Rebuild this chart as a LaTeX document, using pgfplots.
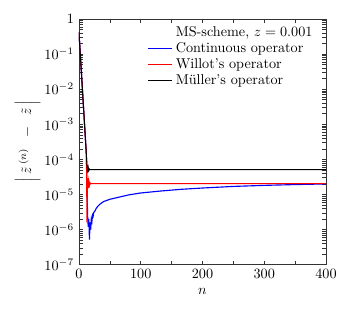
\documentclass[border=0pt]{standalone}
\usepackage{pgfplots}
\pgfplotsset{compat=1.18}
\usepackage{amsmath}

\begin{document}
\begin{tikzpicture}
\begin{axis}[scale only axis,width=174pt,height=173pt,
  ymode=log,xmin=0,xmax=400,ymin=1e-7,ymax=1,
  xtick={0,100,200,300,400},minor xtick={50,150,250,350},
  ytick={1e-7,1e-6,1e-5,1e-4,1e-3,1e-2,1e-1,1},
  yticklabels={$10^{-7}$,$10^{-6}$,$10^{-5}$,$10^{-4}$,$10^{-3}$,$10^{-2}$,$10^{-1}$,$1$},
  minor ytick={},
  tick align=inside,major tick length=2.8pt,minor tick length=2.8pt,
  xlabel={$n$},
  ylabel={$\Big|\;\tilde{z}^{\,(n)}\;\;-\;\;\tilde{z}\,\Big|$},
  ylabel shift=-4pt,
  axis line style={black!80},every tick/.style={black!80},
  legend style={at={(0.975,0.995)},anchor=north east,draw=none,fill=none,
    cells={anchor=west},row sep=-1.2pt},
  every axis plot/.append style={line width=0.7pt}]
\addlegendimage{empty legend}
\addlegendentry{MS-scheme, $z=0.001$}
\addplot[color=blue,line width=0.8pt] coordinates {(0,0.43) (12,1.4e-4) (14,2.5e-6) (15,1.2e-6) (16,2.0e-6) (17,5.2e-7) (18,1.6e-6) (19,1.0e-6) (20,2.0e-6) (21,1.7e-6) (22,2.6e-6) (23,2.4e-6) (24,3.1e-6) (26,3.4e-6) (28,4.0e-6) (30,4.5e-6) (34,5.3e-6) (40,6.3e-6) (50,7.3e-6) (66,8.5e-6) (80,9.7e-6) (99,1.1e-5) (131,1.25e-5) (164,1.4e-5) (200,1.53e-5) (250,1.7e-5) (300,1.82e-5) (350,1.92e-5) (400,2.0e-5)};
\addlegendentry{Continuous operator}
\addplot[color=red] coordinates {(0,0.43) (12,1.4e-4) (13,1.6e-6) (14,2.9e-5) (15,1.5e-5) (16,2.5e-5) (17,1.8e-5) (18,2.15e-5) (19,2.0e-5) (20,2.05e-5) (400,2.05e-5)};
\addlegendentry{Willot's operator}
\addplot[color=black] coordinates {(0,0.43) (13,7e-5) (14,4.2e-5) (15,6e-5) (16,4.8e-5) (17,5.3e-5) (18,5.1e-5) (400,5.1e-5)};
\addlegendentry{M\"uller's operator}
\end{axis}
\path ([shift={(-55.6pt,-38.7pt)}]current axis.south west) rectangle ([shift={(19.7pt,13.4pt)}]current axis.north east);
\end{tikzpicture}
\end{document}
